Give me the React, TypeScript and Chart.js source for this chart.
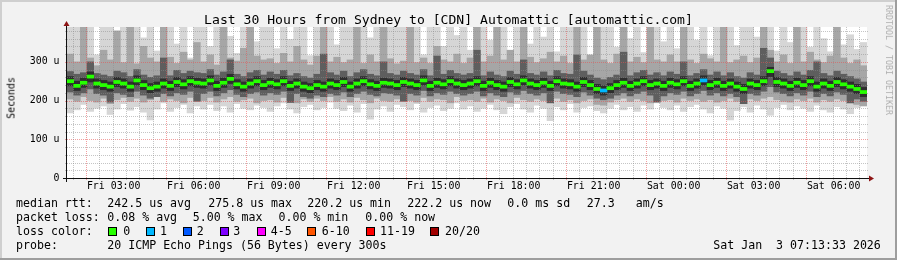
import { useEffect, useRef } from "react";
import { Chart, registerables } from "chart.js";
Chart.register(...registerables);

// ---- data (120 columns of 15 minutes, Fri 01:15 -> Sat 07:15) ----
const median = [
  250, 238, 246, 262, 244, 240, 236, 248, 244, 236,
  252, 240, 232, 236, 244, 238, 248, 242, 250, 246,
  244, 252, 238, 246, 256, 242, 236, 244, 250, 240,
  246, 242, 250, 238, 244, 236, 232, 240, 236, 244,
  240, 248, 236, 244, 250, 242, 238, 246, 244, 240,
  248, 244, 240, 252, 238, 246, 242, 250, 244, 240,
  244, 250, 238, 246, 240, 236, 248, 242, 252, 244,
  240, 246, 238, 250, 244, 242, 236, 248, 240, 230,
  226, 232, 240, 246, 238, 244, 250, 240, 244, 238,
  246, 242, 250, 238, 244, 252, 240, 246, 238, 244,
  236, 230, 244, 240, 250, 276, 248, 244, 238, 246,
  240, 250, 236, 244, 238, 248, 242, 236, 230, 222,
];
const lossCount = [
  0, 0, 0, 0, 0, 0, 0, 0, 0, 0, 0, 0, 0, 0, 0, 0, 0, 0, 0, 0,
  0, 0, 0, 0, 0, 0, 0, 0, 0, 0, 0, 0, 0, 0, 0, 0, 0, 0, 0, 0,
  0, 0, 0, 0, 0, 0, 0, 0, 0, 0, 0, 0, 0, 0, 0, 0, 0, 0, 0, 0,
  0, 0, 0, 0, 0, 0, 0, 0, 0, 0, 0, 0, 0, 0, 0, 0, 0, 0, 0, 0,
  1, 0, 0, 0, 0, 0, 0, 0, 0, 0, 0, 0, 0, 0, 0, 1, 0, 0, 0, 0,
  0, 0, 0, 0, 0, 0, 0, 0, 0, 0, 0, 0, 0, 0, 0, 0, 0, 0, 0, 0,
];
const lightHi = [
  390, 390, 352, 390, 318, 390, 390, 374, 390, 336,
  390, 362, 390, 328, 390, 390, 346, 390, 310, 390,
  390, 340, 390, 390, 366, 322, 390, 390, 352, 390,
  390, 334, 390, 358, 390, 390, 316, 390, 372, 390,
  344, 390, 390, 326, 390, 362, 390, 338, 390, 390,
  390, 352, 390, 318, 390, 390, 340, 390, 368, 390,
  330, 390, 390, 356, 390, 390, 322, 390, 390, 346,
  390, 364, 390, 326, 390, 390, 348, 390, 312, 390,
  390, 390, 338, 390, 360, 390, 324, 390, 390, 352,
  390, 334, 390, 390, 356, 390, 316, 390, 372, 390,
  342, 390, 390, 364, 390, 390, 328, 390, 350, 390,
  390, 338, 390, 360, 326, 390, 344, 370, 332, 350,
];
const lightLo = [
  168, 176, 190, 172, 180, 186, 164, 178, 192, 175,
  184, 170, 150, 178, 194, 172, 182, 190, 168, 186,
  178, 190, 174, 186, 170, 192, 180, 176, 188, 182,
  172, 186, 194, 178, 168, 184, 190, 176, 182, 196,
  180, 174, 188, 170, 192, 152, 178, 186, 172, 190,
  184, 176, 192, 170, 182, 188, 174, 180, 194, 178,
  186, 172, 180, 190, 176, 166, 184, 192, 178, 170,
  188, 180, 148, 184, 176, 192, 170, 182, 186, 174,
  168, 180, 190, 176, 184, 172, 188, 178, 194, 182,
  176, 188, 172, 184, 190, 178, 168, 186, 180, 150,
  174, 184, 170, 188, 178, 162, 182, 190, 176, 186,
  180, 172, 188, 176, 170, 184, 178, 166, 182, 188,
];
const midHi = [
  320, 300, 390, 310, 290, 330, 305, 380, 298, 390,
  295, 340, 310, 300, 390, 312, 296, 325, 305, 350,
  300, 318, 292, 390, 310, 302, 335, 390, 315, 305,
  308, 296, 322, 300, 340, 305, 292, 315, 390, 300,
  312, 298, 305, 390, 296, 318, 300, 390, 308, 295,
  302, 390, 298, 310, 296, 340, 305, 300, 320, 296,
  310, 390, 300, 315, 390, 305, 330, 300, 390, 312,
  298, 308, 325, 300, 315, 296, 390, 305, 318, 390,
  305, 296, 320, 390, 300, 312, 298, 390, 305, 300,
  318, 300, 390, 305, 296, 320, 308, 300, 390, 298,
  305, 315, 298, 310, 390, 330, 300, 318, 296, 390,
  300, 325, 305, 298, 315, 390, 310, 296, 305, 290,
];
const midLo = [
  204, 198, 210, 200, 196, 206, 192, 202, 208, 198,
  206, 196, 202, 210, 198, 204, 200, 194, 208, 202,
  200, 208, 196, 204, 210, 198, 202, 206, 194, 200,
  202, 196, 208, 200, 194, 204, 198, 206, 200, 210,
  198, 204, 196, 208, 202, 194, 206, 200, 198, 204,
  206, 200, 196, 208, 198, 204, 202, 194, 210, 200,
  202, 198, 206, 196, 204, 200, 194, 208, 202, 198,
  204, 200, 196, 206, 198, 202, 194, 200, 204, 190,
  188, 196, 202, 206, 198, 204, 200, 194, 208, 200,
  202, 196, 206, 200, 204, 198, 202, 196, 200, 206,
  198, 192, 204, 200, 206, 210, 202, 198, 196, 204,
  200, 206, 196, 202, 198, 204, 200, 194, 190, 186,
];
const darkHi = [
  275, 268, 272, 300, 270, 266, 262, 276, 272, 262,
  280, 266, 260, 264, 310, 264, 278, 270, 276, 272,
  270, 280, 266, 274, 305, 268, 262, 272, 278, 266,
  274, 268, 278, 264, 270, 262, 258, 268, 320, 272,
  266, 276, 262, 272, 280, 268, 264, 300, 270, 266,
  276, 270, 266, 280, 264, 315, 268, 278, 270, 266,
  270, 330, 264, 274, 266, 262, 276, 268, 305, 270,
  266, 274, 264, 278, 270, 268, 318, 276, 266, 258,
  254, 260, 266, 325, 264, 272, 278, 266, 272, 264,
  274, 268, 300, 264, 270, 280, 266, 274, 264, 272,
  262, 258, 272, 266, 335, 310, 276, 270, 264, 274,
  266, 278, 300, 270, 264, 276, 268, 262, 256, 248,
];
const darkLo = [
  222, 214, 220, 230, 218, 214, 196, 220, 216, 210,
  224, 214, 206, 210, 218, 212, 220, 216, 224, 198,
  218, 224, 212, 220, 228, 216, 210, 218, 222, 214,
  220, 216, 224, 195, 218, 210, 206, 214, 210, 218,
  214, 222, 210, 218, 224, 216, 212, 220, 218, 214,
  198, 218, 214, 226, 212, 220, 216, 224, 218, 214,
  218, 224, 212, 220, 214, 210, 222, 216, 226, 218,
  214, 220, 194, 224, 218, 216, 210, 222, 214, 206,
  202, 206, 214, 220, 212, 218, 224, 214, 196, 212,
  220, 216, 224, 212, 218, 226, 214, 220, 212, 218,
  210, 192, 218, 214, 224, 236, 222, 218, 212, 220,
  214, 224, 210, 218, 212, 222, 216, 194, 204, 198,
];
const coreHi = [
  262, 250, 258, 274, 256, 252, 248, 260, 256, 248,
  264, 252, 244, 248, 256, 250, 260, 254, 262, 258,
  256, 264, 250, 258, 268, 254, 248, 256, 262, 252,
  258, 254, 262, 250, 256, 248, 244, 252, 248, 256,
  252, 260, 248, 256, 262, 254, 250, 258, 256, 252,
  260, 256, 252, 264, 250, 258, 254, 262, 256, 252,
  256, 262, 250, 258, 252, 248, 260, 254, 264, 256,
  252, 258, 250, 262, 256, 254, 248, 260, 252, 242,
  238, 244, 252, 258, 250, 256, 262, 252, 256, 250,
  258, 254, 262, 250, 256, 264, 252, 258, 250, 256,
  248, 242, 256, 252, 262, 286, 260, 256, 250, 258,
  252, 262, 248, 256, 250, 260, 254, 248, 242, 234,
];
const coreLo = [
  238, 226, 234, 248, 232, 228, 224, 236, 232, 224,
  240, 228, 220, 224, 232, 226, 236, 230, 238, 234,
  232, 240, 226, 234, 244, 230, 224, 232, 238, 228,
  234, 230, 238, 226, 232, 224, 220, 228, 224, 232,
  228, 236, 224, 232, 238, 230, 226, 234, 232, 228,
  236, 232, 228, 240, 226, 234, 230, 238, 232, 228,
  232, 238, 226, 234, 228, 224, 236, 230, 240, 232,
  228, 234, 226, 238, 232, 230, 224, 236, 228, 218,
  214, 220, 228, 234, 226, 232, 238, 228, 232, 226,
  234, 230, 238, 226, 232, 240, 228, 234, 226, 232,
  224, 218, 232, 228, 238, 262, 236, 232, 226, 234,
  228, 238, 224, 232, 226, 236, 230, 224, 218, 210,
];

const tickLabels = ["Fri 03:00", "Fri 06:00", "Fri 09:00", "Fri 12:00", "Fri 15:00", "Fri 18:00", "Fri 21:00", "Sat 00:00", "Sat 03:00", "Sat 06:00"];
const tickClockHours = [3, 6, 9, 12, 15, 18, 21, 24, 27, 30];
const yTickValues = [0, 100, 200, 300];
const yTickLabels = ["0", "100 u", "200 u", "300 u"];
const lossLabels = ["0", "1", "2", "3", "4-5", "6-10", "11-19", "20/20"];
const lossColors = ["#26ff00", "#00b8ff", "#0059ff", "#7e00ff", "#ff00ff", "#ff5500", "#ff0000", "#a10000"];

const START_MIN = 75; // Fri 01:15
const SPAN_SEC = 30 * 3600;
const Y_MAX = 390;
const MONO = "'DejaVu Sans Mono', monospace";

const rrdPlugin = {
  id: "rrd",
  beforeDraw(chart: any) {
    const { ctx, chartArea: a } = chart;
    ctx.save();
    ctx.fillStyle = "#ffffff";
    ctx.fillRect(a.left, a.top, a.right - a.left, a.bottom - a.top);
    ctx.restore();
  },
  beforeDatasetDraw(chart: any, args: any) {
    if (args.index !== 1) return;
    const { ctx, chartArea: a } = chart;
    const y = chart.scales.y;
    const xt = chart.scales.xt;
    ctx.save();
    ctx.lineWidth = 1;
    ctx.setLineDash([1, 1]);
    for (let v = 20; v < Y_MAX; v += 20) {
      const py = Math.round(y.getPixelForValue(v)) + 0.5;
      ctx.strokeStyle = v % 100 === 0 ? "rgba(232,80,80,0.55)" : "rgba(140,140,140,0.5)";
      ctx.beginPath();
      ctx.moveTo(a.left - 2, py);
      ctx.lineTo(a.right + 2, py);
      ctx.stroke();
    }
    const firstHalf = (90 - START_MIN) * 60;
    for (let s = firstHalf; s < SPAN_SEC; s += 1800) {
      const clockMin = START_MIN + s / 60;
      const major = clockMin % 180 === 120;
      const px = Math.round(xt.getPixelForValue(s)) - 0.5;
      ctx.strokeStyle = major ? "rgba(232,80,80,0.55)" : "rgba(140,140,140,0.5)";
      ctx.beginPath();
      ctx.moveTo(px, a.top);
      ctx.lineTo(px, a.bottom + 2);
      ctx.stroke();
    }
    ctx.restore();
  },
  afterDraw(chart: any) {
    const { ctx, chartArea: a } = chart;
    ctx.save();
    ctx.strokeStyle = "#101010";
    ctx.lineWidth = 1;
    ctx.setLineDash([]);
    const bx = Math.round(a.left) - 0.5;
    const by = Math.round(a.bottom) + 0.5;
    ctx.beginPath();
    ctx.moveTo(a.left - 4, by);
    ctx.lineTo(a.right + 3, by);
    ctx.moveTo(bx, a.bottom + 4);
    ctx.lineTo(bx, a.top - 2);
    ctx.stroke();
    ctx.fillStyle = "#8e1515";
    ctx.beginPath();
    ctx.moveTo(bx, a.top - 6);
    ctx.lineTo(bx - 3, a.top - 1);
    ctx.lineTo(bx + 3, a.top - 1);
    ctx.closePath();
    ctx.fill();
    ctx.beginPath();
    ctx.moveTo(a.right + 7, by);
    ctx.lineTo(a.right + 2, by - 3);
    ctx.lineTo(a.right + 2, by + 3);
    ctx.closePath();
    ctx.fill();
    ctx.restore();
  },
};

function Txt(props: { x: number; base: number; size?: number; color?: string; children: any }) {
  const size = props.size ?? 11.6;
  return (
    <span
      style={{
        position: "absolute",
        left: props.x,
        top: props.base - size * 0.846,
        fontSize: size,
        lineHeight: `${size}px`,
        fontFamily: MONO,
        whiteSpace: "pre",
        color: props.color ?? "#000",
      }}
    >
      {props.children}
    </span>
  );
}

const squareX = [108, 145.5, 182.5, 219.5, 256.5, 307, 365.5, 430];
const squareLabelX = [123.3, 160, 196.7, 233.3, 270.7, 321.7, 380, 445];

export default function App() {
  const ref = useRef<HTMLCanvasElement | null>(null);
  useEffect(() => {
    if (!ref.current) return;
    const cats = median.map((_, i) => String(i));
    const barBase = {
      type: "bar" as const,
      grouped: false,
      barPercentage: 1,
      categoryPercentage: 1,
      borderWidth: 0,
      xAxisID: "x",
      yAxisID: "y",
    };
    const tickOffsets = tickClockHours.map((h) => (h * 60 - START_MIN) * 60);
    const chart = new Chart(ref.current, {
      type: "bar",
      data: {
        labels: cats,
        datasets: [
          { ...barBase, data: median.map((m) => [m - 4, m + 4]), backgroundColor: lossCount.map((l) => lossColors[l]), order: 0 },
          { type: "line", data: median, borderColor: "#202020", borderWidth: 1, pointRadius: 0, stepped: "middle", order: 1, xAxisID: "x", yAxisID: "y" },
          { ...barBase, data: coreLo.map((v, i) => [v, coreHi[i]]), backgroundColor: "#2e2e2e", order: 2 },
          { ...barBase, data: darkLo.map((v, i) => [v, darkHi[i]]), backgroundColor: "#5e5e5e", order: 3 },
          { ...barBase, data: midLo.map((v, i) => [v, midHi[i]]), backgroundColor: "#a6a6a6", order: 4 },
          { ...barBase, data: lightLo.map((v, i) => [v, lightHi[i]]), backgroundColor: "#d6d6d6", order: 5 },
        ] as any,
      },
      options: {
        responsive: false,
        animation: false,
        devicePixelRatio: 1,
        events: [],
        layout: { padding: { left: 0, right: 30, top: 27, bottom: 0 } },
        plugins: { legend: { display: false }, tooltip: { enabled: false } },
        scales: {
          x: { type: "category", display: false, offset: true, grid: { display: false } },
          xt: {
            type: "linear",
            position: "bottom",
            offset: false,
            min: 0,
            max: SPAN_SEC,
            grid: { display: false, drawTicks: false },
            border: { display: false },
            afterBuildTicks: (s: any) => {
              s.ticks = tickOffsets.map((v) => ({ value: v }));
            },
            afterFit: (s: any) => {
              s.height = 82;
            },
            ticks: {
              autoSkip: false,
              maxRotation: 0,
              padding: 2,
              color: "#000",
              font: { family: "DejaVu Sans Mono", size: 9.9 },
              callback: (_v: any, i: number) => tickLabels[i],
            },
          },
          y: {
            type: "linear",
            min: 0,
            max: Y_MAX,
            grid: { display: false, drawTicks: false },
            border: { display: false },
            afterBuildTicks: (s: any) => {
              s.ticks = yTickValues.map((v) => ({ value: v }));
            },
            afterFit: (s: any) => {
              s.width = 67;
            },
            ticks: {
              padding: 7.5,
              color: "#000",
              font: { family: "DejaVu Sans Mono", size: 9.9 },
              callback: (_v: any, i: number) => yTickLabels[i],
            },
          },
        },
      } as any,
      plugins: [rrdPlugin],
    });
    return () => chart.destroy();
  }, []);

  return (
    <div style={{ position: "absolute", left: 0, top: 0, width: 897, height: 260, background: "#f2f2f2", overflow: "hidden" }}>
      <div style={{ position: "absolute", left: 0, top: 0, width: 897, height: 2, background: "#cfcfcf" }} />
      <div style={{ position: "absolute", left: 0, top: 0, width: 2, height: 260, background: "#cfcfcf" }} />
      <div style={{ position: "absolute", left: 0, top: 258, width: 897, height: 2, background: "#9e9e9e" }} />
      <div style={{ position: "absolute", left: 895, top: 0, width: 2, height: 260, background: "#9e9e9e" }} />
      <canvas ref={ref} width={897} height={260} style={{ position: "absolute", left: 0, top: 0, width: 897, height: 260 }} />
      <div
        style={{
          position: "absolute",
          left: 0,
          width: 897,
          top: 24 - 13.1 * 0.846,
          textAlign: "center",
          fontFamily: MONO,
          fontSize: 13.1,
          lineHeight: "13.1px",
          whiteSpace: "pre",
          color: "#000",
        }}
      >
        Last 30 Hours from Sydney to [CDN] Automattic [automattic.com]
      </div>
      <div
        style={{
          position: "absolute",
          left: 10.5,
          top: 98,
          transform: "translate(-50%, -50%) rotate(-90deg)",
          fontFamily: MONO,
          fontSize: 9.9,
          whiteSpace: "pre",
          color: "#000",
        }}
      >
        Seconds
      </div>
      <div
        style={{
          position: "absolute",
          left: 889,
          top: 60,
          transform: "translate(-50%, -50%) rotate(90deg)",
          fontFamily: MONO,
          fontSize: 8.3,
          whiteSpace: "pre",
          color: "#b0b0b0",
        }}
      >
        RRDTOOL / TOBI OETIKER
      </div>

      <Txt x={16} base={208}>median rtt:</Txt>
      <Txt x={107.3} base={208}>242.5 us avg</Txt>
      <Txt x={208.3} base={208}>275.8 us max</Txt>
      <Txt x={307.3} base={208}>220.2 us min</Txt>
      <Txt x={407.3} base={208}>222.2 us now</Txt>
      <Txt x={507.3} base={208}>0.0 ms sd</Txt>
      <Txt x={586.7} base={208}>27.3</Txt>
      <Txt x={635.7} base={208}>am/s</Txt>

      <Txt x={16} base={222}>packet loss:</Txt>
      <Txt x={107.3} base={222}>0.08 % avg</Txt>
      <Txt x={192.7} base={222}>5.00 % max</Txt>
      <Txt x={278.5} base={222}>0.00 % min</Txt>
      <Txt x={365.3} base={222}>0.00 % now</Txt>

      <Txt x={16} base={236}>loss color:</Txt>
      {lossLabels.map((lab, i) => (
        <span key={lab}>
          <span
            style={{
              position: "absolute",
              left: squareX[i],
              top: 227,
              width: 9,
              height: 9,
              boxSizing: "border-box",
              border: "1px solid #000",
              background: lossColors[i],
            }}
          />
          <Txt x={squareLabelX[i]} base={236}>{lab}</Txt>
        </span>
      ))}

      <Txt x={16} base={250}>probe:</Txt>
      <Txt x={107.3} base={250}>20 ICMP Echo Pings (56 Bytes) every 300s</Txt>
      <Txt x={713.3} base={250}>Sat Jan  3 07:13:33 2026</Txt>
    </div>
  );
}
